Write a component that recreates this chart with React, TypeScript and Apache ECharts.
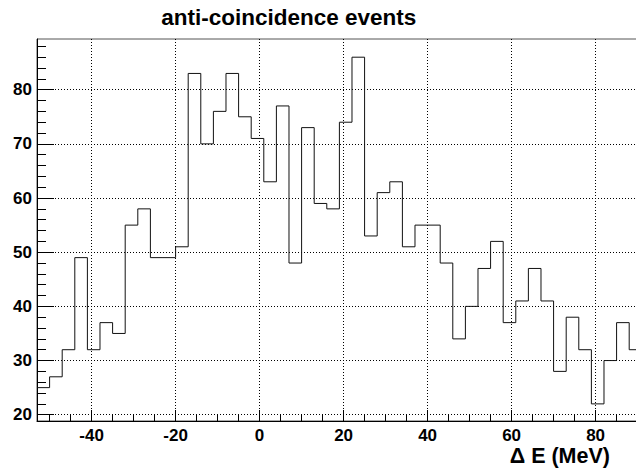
import React, { useEffect, useRef } from "react";
import * as echarts from "echarts";

const TITLE = "anti-coincidence events";
const X_NAME = "\u0394 E (MeV)";
const BIN_START = -53;
const BIN_WIDTH = 3;
const COUNTS = [
  25, 27, 32, 49, 32, 37, 35, 55, 58, 49, 49, 51, 83, 70, 76, 83, 75, 71, 63, 77,
  48, 73, 59, 58, 74, 86, 53, 61, 63, 51, 55, 55, 48, 34, 40, 47, 52, 37, 41, 47,
  41, 28, 38, 32, 22, 30, 37, 32,
];
const X_MAJOR = [-40, -20, 0, 20, 40, 60, 80];
const X_MINOR = [-50, -45, -35, -30, -25, -15, -10, -5, 5, 10, 15, 25, 30, 35, 45, 50, 55, 65, 70, 75, 85];
const Y_MAJOR = [20, 30, 40, 50, 60, 70, 80];
const Y_MINOR = [22, 24, 26, 28, 32, 34, 36, 38, 42, 44, 46, 48, 52, 54, 56, 58, 62, 64, 66, 68, 72, 74, 76, 78, 82, 84, 86, 88];
const X_MIN = -53;
const X_MAX = 89.86;
const Y_MIN = 18.84;
const Y_MAX = 89.36;

const FONT = "'Liberation Sans', Arial, Helvetica, sans-serif";

export default function App() {
  const ref = useRef<HTMLDivElement>(null);
  useEffect(() => {
    if (!ref.current) return;
    const chart = echarts.init(ref.current, null, { renderer: "svg" });
    const steps: number[][] = [];
    COUNTS.forEach((v, i) => {
      const lo = BIN_START + i * BIN_WIDTH;
      steps.push([lo, v], [lo + BIN_WIDTH, v]);
    });
    const dotted = { color: "#000", width: 1, type: [1, 2] as any };
    const labelStyle = { color: "#000", fontFamily: FONT, fontWeight: "bold" as const, fontSize: 17 };
    chart.setOption({
      animation: false,
      backgroundColor: "#fff",
      grid: {
        left: 37,
        right: -1,
        top: 39,
        bottom: 51,
        show: true,
        borderColor: "#555",
        borderWidth: 1,
        containLabel: false,
        outerBoundsMode: "none",
      },
      xAxis: [
        {
          type: "value",
          min: X_MIN,
          max: X_MAX,
          position: "bottom",
          axisLine: { show: true, onZero: false, lineStyle: { color: "#000", width: 1 } },
          axisTick: { show: true, inside: true, length: 11, customValues: X_MAJOR, lineStyle: { color: "#000" } },
          axisLabel: { show: true, customValues: X_MAJOR, margin: 6, ...labelStyle },
          splitLine: { show: true, lineStyle: dotted },
        },
        {
          type: "value",
          min: X_MIN,
          max: X_MAX,
          position: "bottom",
          axisLine: { show: false, onZero: false },
          axisTick: { show: true, inside: true, length: 6, customValues: X_MINOR, lineStyle: { color: "#000" } },
          axisLabel: { show: false },
          splitLine: { show: false },
        },
      ],
      yAxis: [
        {
          type: "value",
          min: Y_MIN,
          max: Y_MAX,
          position: "left",
          axisLine: { show: true, onZero: false, lineStyle: { color: "#000", width: 1 } },
          axisTick: { show: true, inside: true, length: 17, customValues: Y_MAJOR, lineStyle: { color: "#000" } },
          axisLabel: { show: true, customValues: Y_MAJOR, margin: 5, ...labelStyle },
          splitLine: { show: true, lineStyle: dotted },
        },
        {
          type: "value",
          min: Y_MIN,
          max: Y_MAX,
          position: "left",
          axisLine: { show: false, onZero: false },
          axisTick: { show: true, inside: true, length: 9, customValues: Y_MINOR, lineStyle: { color: "#000" } },
          axisLabel: { show: false },
          splitLine: { show: false },
        },
      ],
      series: [
        {
          type: "line",
          xAxisIndex: 0,
          yAxisIndex: 0,
          data: steps,
          showSymbol: false,
          symbol: "none",
          clip: true,
          z: 5,
          lineStyle: { color: "#111", width: 1 },
        },
      ],
      graphic: [
        {
          type: "text",
          x: 288.7,
          y: 17.5,
          style: {
            text: TITLE,
            align: "center",
            verticalAlign: "middle",
            fill: "#000",
            font: `bold 22.5px ${FONT}`,
          },
        },
        {
          type: "text",
          x: 610,
          y: 456,
          style: {
            text: X_NAME,
            align: "right",
            verticalAlign: "middle",
            fill: "#000",
            font: `bold 21.5px ${FONT}`,
          },
        },
      ],
    });
    return () => chart.dispose();
  }, []);
  return (
    <div
      ref={ref}
      style={{ position: "absolute", left: 0, top: 0, width: 636, height: 472 }}
    />
  );
}
